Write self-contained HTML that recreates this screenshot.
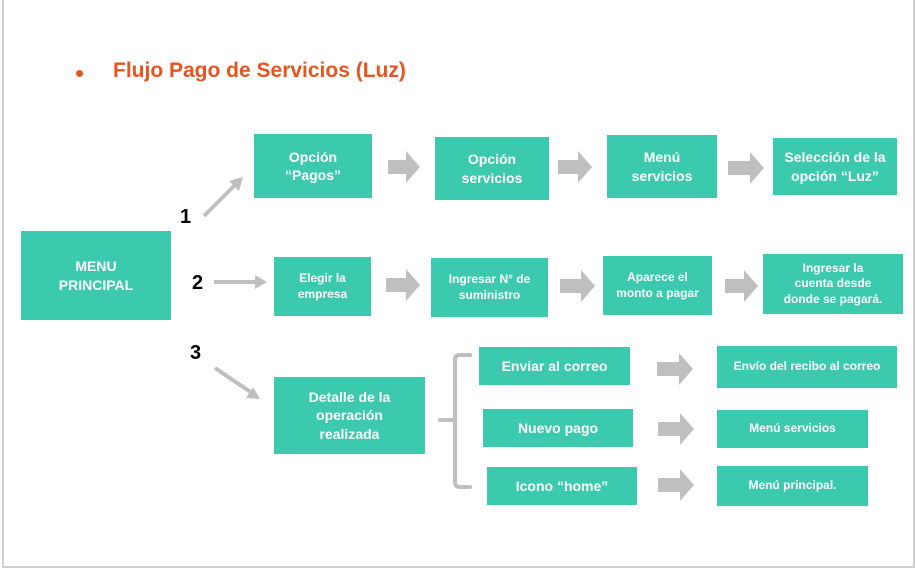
<!DOCTYPE html>
<html><head><meta charset="utf-8"><style>
body{margin:0;width:915px;height:573px;overflow:hidden;background:#fff;position:relative;font-family:"Liberation Sans",sans-serif}
.frame{position:absolute;left:2px;top:0;width:909px;height:566px;border-left:2px solid #d0d0d0;border-right:2px solid #d0d0d0;border-bottom:2px solid #d0d0d0}
.b{position:absolute;background:#3ccaae;color:#fff;font-weight:bold;display:flex;align-items:center;justify-content:center;text-align:center;line-height:1.3;font-size:14px}
.s{font-size:12px}
.n{position:absolute;font-family:"Liberation Sans",sans-serif;font-weight:bold;font-size:20px;color:#000}
.t{position:absolute;left:113px;top:59px;color:#e8541e;font-weight:bold;font-size:21px}
.dot{position:absolute;left:76px;top:70px;width:7px;height:7px;border-radius:50%;background:#e8541e}
svg{position:absolute;left:0;top:0}
</style></head><body>
<div class="frame"></div>
<div class="dot"></div>
<div class="t">Flujo Pago de Servicios (Luz)</div>
<svg width="915" height="573">
<g fill="#bfbfbf">
<path d="M388,160h18v-9l14,16l-14,16v-9h-18z"/>
<path d="M558,160h20v-9l14,16l-14,16v-9h-20z"/>
<path d="M728,161h22v-9l14,16l-14,16v-9h-22z"/>
<path d="M386,278h20v-9l14,16l-14,16v-9h-20z"/>
<path d="M560,279h21v-9l14,16l-14,16v-9h-21z"/>
<path d="M725,279h19v-9l14,16l-14,16v-9h-19z"/>
<path d="M657,362h22v-9l14,16l-14,16v-9h-22z"/>
<path d="M658,422h22v-9l14,16l-14,16v-9h-22z"/>
<path d="M658,478h22v-9l14,16l-14,16v-9h-22z"/>
</g>
<g stroke="#bfbfbf" stroke-width="4" fill="none">
<line x1="204" y1="216" x2="236" y2="184"/>
<line x1="214" y1="282" x2="258" y2="282"/>
<line x1="215" y1="368" x2="252" y2="393"/>
<path d="M470,355h-10q-5,0-5,5v122q0,5,5,5h10" stroke-linecap="round"/>
<line x1="440" y1="420" x2="455" y2="420" stroke-linecap="round"/>
</g>
<g fill="#bfbfbf">
<path d="M243,177l-4,14l-10,-10z"/>
<path d="M267,282l-12,-7v14z"/>
<path d="M260,399l-14,-1l7,-11z"/>
</g>
</svg>
<div class="n" style="left:180px;top:206px">1</div>
<div class="n" style="left:192px;top:272px">2</div>
<div class="n" style="left:190px;top:342px">3</div>
<div class="b" style="left:21px;top:231px;width:150px;height:89px">MENU<br>PRINCIPAL</div>
<div class="b" style="left:254px;top:134px;width:118px;height:64px">Opción<br>“Pagos”</div>
<div class="b" style="left:435px;top:137px;width:114px;height:63px">Opción<br>servicios</div>
<div class="b" style="left:607px;top:135px;width:110px;height:63px">Menú<br>servicios</div>
<div class="b" style="left:773px;top:138px;width:124px;height:57px">Selección de la<br>opción “Luz”</div>
<div class="b s" style="left:274px;top:257px;width:97px;height:59px">Elegir la<br>empresa</div>
<div class="b s" style="left:431px;top:258px;width:117px;height:59px">Ingresar N° de<br>suministro</div>
<div class="b s" style="left:603px;top:256px;width:109px;height:59px">Aparece el<br>monto a pagar</div>
<div class="b s" style="left:763px;top:254px;width:140px;height:60px">Ingresar la<br>cuenta desde<br>donde se pagará.</div>
<div class="b" style="left:274px;top:377px;width:151px;height:77px">Detalle de la<br>operación<br>realizada</div>
<div class="b" style="left:479px;top:347px;width:151px;height:38px">Enviar al correo</div>
<div class="b" style="left:483px;top:409px;width:150px;height:38px">Nuevo pago</div>
<div class="b" style="left:487px;top:467px;width:150px;height:38px">Icono “home”</div>
<div class="b s" style="left:717px;top:346px;width:180px;height:42px">Envío del recibo al correo</div>
<div class="b s" style="left:717px;top:410px;width:151px;height:38px">Menú servicios</div>
<div class="b s" style="left:717px;top:466px;width:151px;height:40px">Menú principal.</div>
</body></html>
